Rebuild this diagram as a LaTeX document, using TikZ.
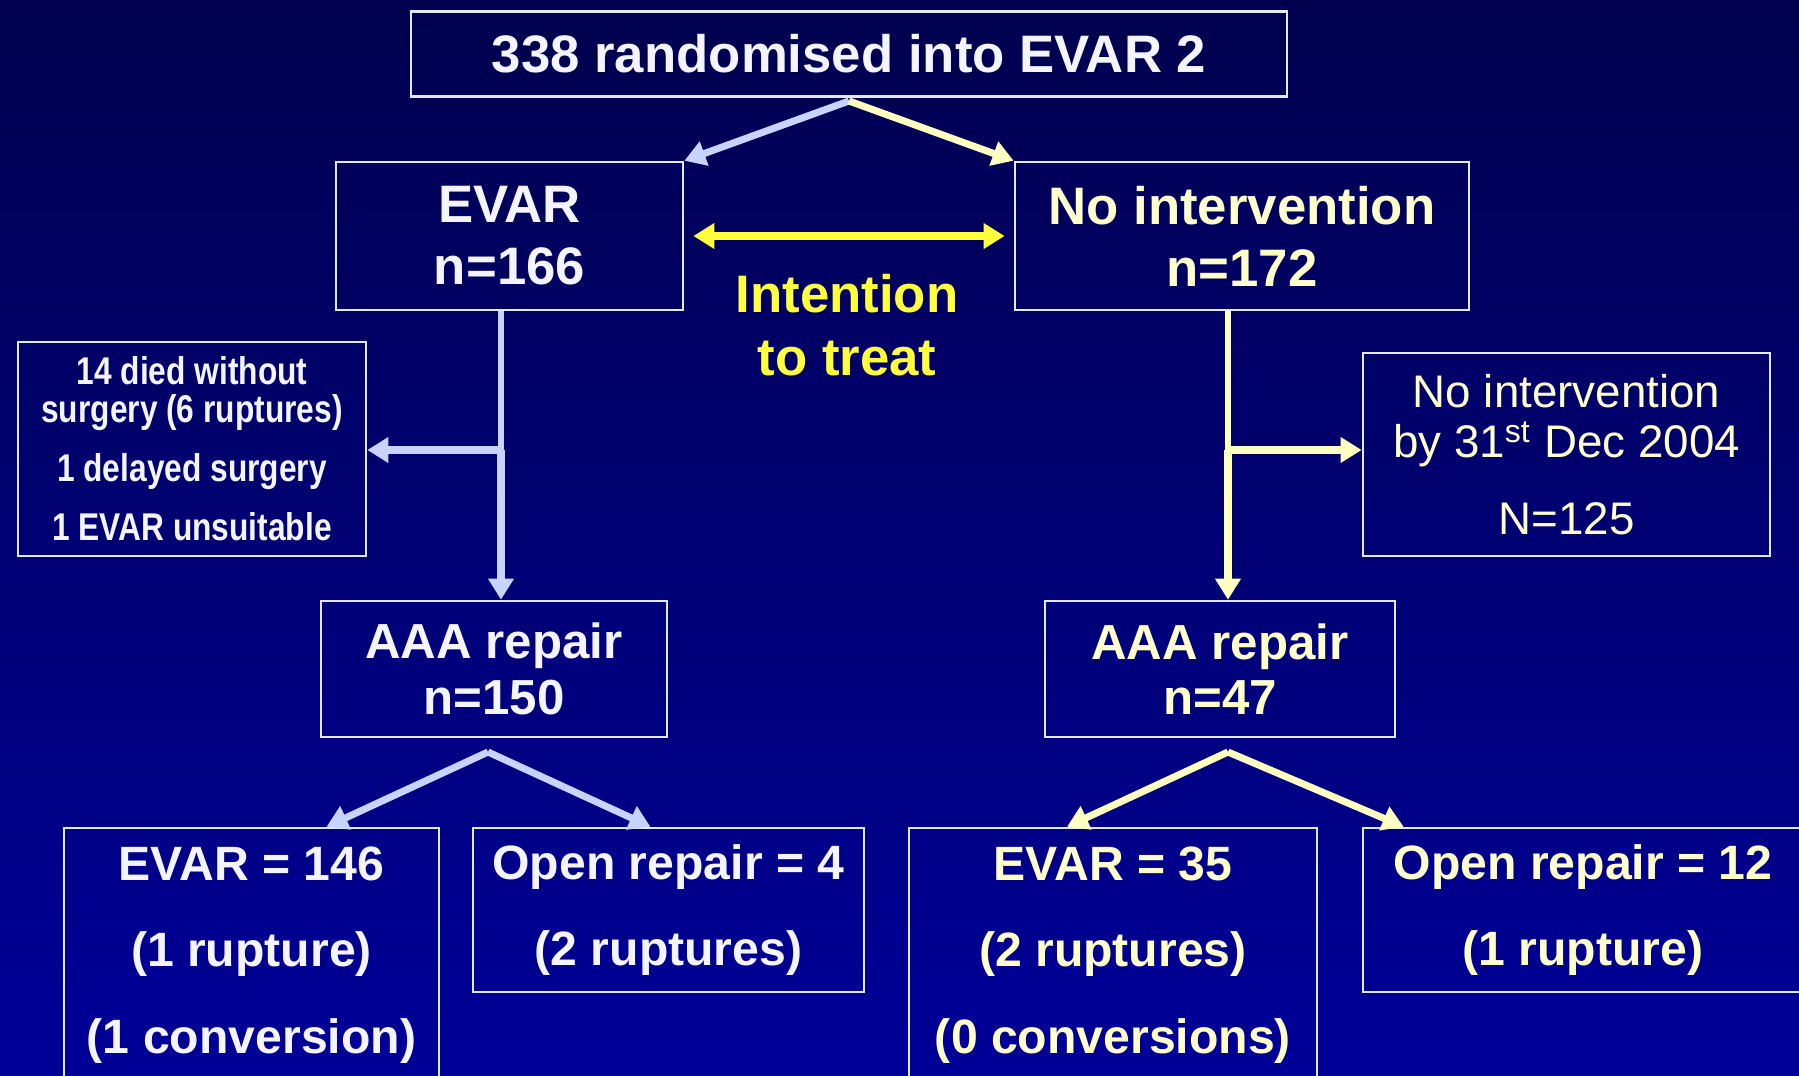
\documentclass[tikz,border=0pt]{standalone}
\usepackage{fontspec}
\setmainfont{Liberation Sans}
\newfontfamily\narrowfont[FakeStretch=0.82]{Liberation Sans}
\usepackage{tikz}
\usetikzlibrary{arrows.meta, calc}
\definecolor{bgTop}{HTML}{00004E}
\definecolor{bgBottom}{HTML}{000098}
\definecolor{boxLine}{HTML}{E4E8FF}
\definecolor{evarText}{HTML}{F4F4FF}
\definecolor{noText}{HTML}{FFFFCC}
\definecolor{blueArrow}{HTML}{C8D4FF}
\definecolor{paleArrow}{HTML}{FFFFC0}
\definecolor{ittYellow}{HTML}{FFFF3C}

\begin{document}
\begin{tikzpicture}[
    x=0.01cm, y=-0.01cm,
    every node/.style={font=\bfseries},
    box/.style={
        rectangle, draw=boxLine, line width=0.7pt,
        align=center, inner sep=0pt
    },
    mainbox/.style={box, font=\bfseries\fontsize{15}{17.6}\selectfont},
    repairbox/.style={box, font=\bfseries\fontsize{14}{15.8}\selectfont},
    resultbox/.style={box, font=\bfseries\fontsize{13.7}{24.6}\selectfont},
    evarside/.style={text=evarText},
    noside/.style={text=noText},
    bluearrow/.style={-{Triangle[length=6pt,width=7pt]}, blueArrow, line width=2pt},
    blueline/.style={blueArrow, line width=1.5pt},
    yellowarrow/.style={-{Triangle[length=6pt,width=7pt]}, paleArrow, line width=2pt},
    yellowline/.style={paleArrow, line width=1.5pt},
    ittarrow/.style={{Triangle[length=6pt,width=7pt]}-{Triangle[length=6pt,width=7pt]}, ittYellow, line width=2.2pt}
]

\useasboundingbox (0,0) rectangle (1799,1075);
\clip (0,0) rectangle (1799,1075);
\shade[top color=bgTop, bottom color=bgBottom] (0,0) rectangle (1799,1075);

\node[mainbox, evarside, minimum width=87.6mm, minimum height=8.5mm] (rand) at (849,54) {338 randomised into EVAR 2};

\node[mainbox, evarside, minimum width=34.7mm, minimum height=14.8mm] (evar) at (509.5,236) {EVAR\\n=166};
\node[mainbox, noside, minimum width=45.4mm, minimum height=14.8mm] (noint) at (1242,236) {No intervention\\n=172};

\node[align=center, text=ittYellow, font=\bfseries\fontsize{15}{17.9}\selectfont] (itt) at (847,325.5) {Intention\\to treat};

\node[box, evarside, minimum width=34.8mm, minimum height=21.4mm,
      font=\narrowfont\bfseries\fontsize{11}{10.8}\selectfont] (died) at (192,449)
      {14 died without\\surgery (6 ruptures)\\[5.8pt]1 delayed surgery\\[6.2pt]1 EVAR unsuitable};
\node[box, noside, minimum width=40.7mm, minimum height=20.3mm,
      font=\mdseries\fontsize{13}{14.4}\selectfont] (noneyet) at (1566.5,454.5)
      {No intervention\\by 31\textsuperscript{st} Dec 2004\\[7.5pt]N=125};

\node[repairbox, evarside, minimum width=34.6mm, minimum height=13.6mm] (aaaL) at (494,669) {AAA repair\\n=150};
\node[repairbox, noside, minimum width=35mm, minimum height=13.6mm] (aaaR) at (1220,669) {AAA repair\\n=47};

\node[resultbox, evarside, minimum width=37.5mm, minimum height=25.4mm] (evarL) at (251.5,955) {EVAR = 146\\(1 rupture)\\(1 conversion)};
\node[resultbox, evarside, minimum width=39.1mm, minimum height=16.4mm] (openL) at (668.5,910) {Open repair = 4\\(2 ruptures)};
\node[resultbox, noside, minimum width=40.8mm, minimum height=25.4mm] (evarR) at (1113,955) {EVAR = 35\\(2 ruptures)\\(0 conversions)};
\node[resultbox, noside, minimum width=44mm, minimum height=16.4mm] (openR) at (1583,910) {Open repair = 12\\(1 rupture)};

\coordinate (split) at (849,101);
\coordinate (lsplit) at (501,450);
\coordinate (rsplit) at (1228,450);
\coordinate (lfork) at (488,752);
\coordinate (rfork) at (1228,752);

\draw[bluearrow] (split) -- (evar.north east);
\draw[yellowarrow] (split) -- (noint.north west);
\draw[ittarrow] ($(evar.east)+(9,0)$) -- ($(noint.west)+(-9,0)$);

\draw[blueline] (evar.south -| lsplit) -- (lsplit);
\draw[bluearrow] (lsplit) -- (lsplit |- aaaL.north);
\draw[bluearrow] (lsplit) -- (lsplit -| died.east);

\draw[yellowline] (noint.south -| rsplit) -- (rsplit);
\draw[yellowarrow] (rsplit) -- (rsplit |- aaaR.north);
\draw[yellowarrow] (rsplit) -- (rsplit -| noneyet.west);

\draw[bluearrow] (lfork) -- ($(evarL.north)+(75,0)$);
\draw[bluearrow] (lfork) -- ($(openL.north)+(-18,0)$);
\draw[yellowarrow] (rfork) -- ($(evarR.north)+(-46,0)$);
\draw[yellowarrow] (rfork) -- ($(openR.north west)+(42,0)$);

\end{tikzpicture}
\end{document}
